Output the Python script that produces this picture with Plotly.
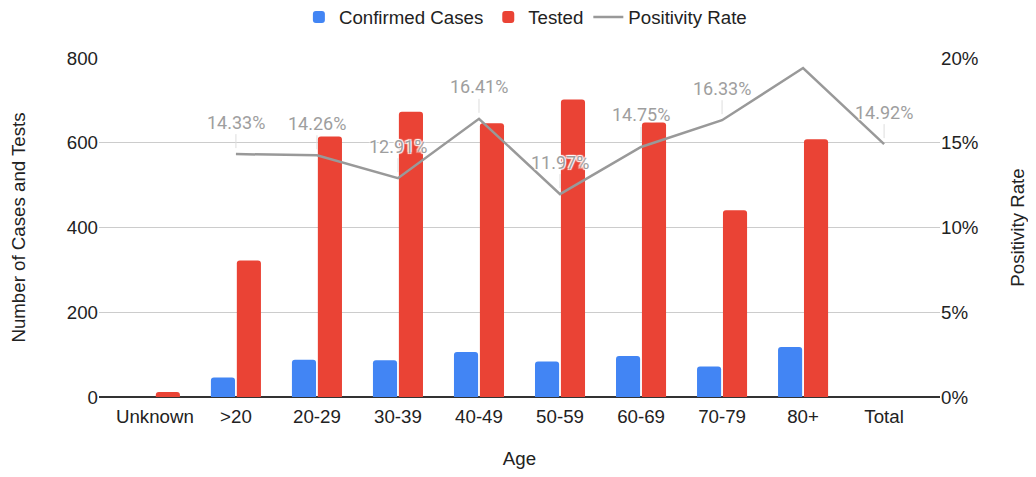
import plotly.graph_objects as go

categories = ["Unknown", ">20", "20-29", "30-39", "40-49", "50-59", "60-69", "70-79", "80+", "Total"]
confirmed = [0, 46, 88, 87, 106, 84, 97, 72, 118, None]
tested = [12, 322, 615, 673, 646, 702, 648, 441, 608, None]
positivity = [None, 14.33, 14.26, 12.91, 16.41, 11.97, 14.75, 16.33, 19.41, 14.92]
labelled = [False, True, True, True, True, True, True, True, False, True]

FONT = "Liberation Sans, Arial, sans-serif"
FS = 18.7

fig = go.Figure()
fig.add_trace(go.Bar(x=categories, y=confirmed, name="Confirmed Cases",
                     marker=dict(color="#4285F4", line=dict(width=0))))
fig.add_trace(go.Bar(x=categories, y=tested, name="Tested",
                     marker=dict(color="#EA4335", line=dict(width=0))))
fig.add_trace(go.Scatter(x=categories, y=positivity, name="Positivity Rate", yaxis="y2",
                         mode="lines", line=dict(color="#999999", width=2.5),
                         connectgaps=False))

for c, v, show in zip(categories, positivity, labelled):
    if v is None or not show:
        continue
    fig.add_annotation(x=c, y=v, yref="y2", xref="x", text=f"{v:.2f}%",
                       showarrow=True, arrowhead=0, arrowwidth=1, arrowcolor="#dddddd",
                       ax=0, ay=-32, standoff=6,
                       font=dict(family="Roboto, sans-serif", size=18, color="#9e9e9e",
                                 shadow="1px 1px 1px white, -1px -1px 1px white, 1px -1px 1px white, -1px 1px 1px white"))

fig.update_layout(
    width=1020, height=461,
    margin=dict(l=91, r=88, t=50, b=72, autoexpand=False),
    paper_bgcolor="white", plot_bgcolor="white",
    font=dict(family=FONT, size=FS, color="#222222"),
    barmode="group", bargap=0.36, bargroupgap=0.07, barcornerradius=3,
    legend=dict(orientation="h", x=0.507, xanchor="center", y=0.98, yref="container",
                yanchor="middle", font=dict(size=FS, color="#222222"),
                itemwidth=30, traceorder="normal"),
    xaxis=dict(range=[-0.69, 9.69], showgrid=False, ticks="", showline=False,
               ticklabelstandoff=6,
               tickfont=dict(size=FS, color="#222222"),
               title=dict(text="Age", font=dict(size=FS, color="#222222"), standoff=33)),
    yaxis=dict(range=[0, 800], tickvals=[0, 200, 400, 600, 800], showgrid=True,
               gridcolor="#cccccc", gridwidth=1, zeroline=True, zerolinecolor="#333333",
               zerolinewidth=1.5, ticks="", tickfont=dict(size=FS, color="#222222"),
               title=dict(text="Number of Cases and Tests", font=dict(size=FS, color="#222222"), standoff=38)),
    yaxis2=dict(range=[0, 20], overlaying="y", side="right", tickvals=[0, 5, 10, 15, 20],
                ticktext=["0%", "5%", "10%", "15%", "20%"], showgrid=False, zeroline=False,
                ticks="", tickfont=dict(size=FS, color="#222222"),
                title=dict(text="Positivity Rate", font=dict(size=FS, color="#222222"), standoff=45)),
)

fig.write_html("out.html")
